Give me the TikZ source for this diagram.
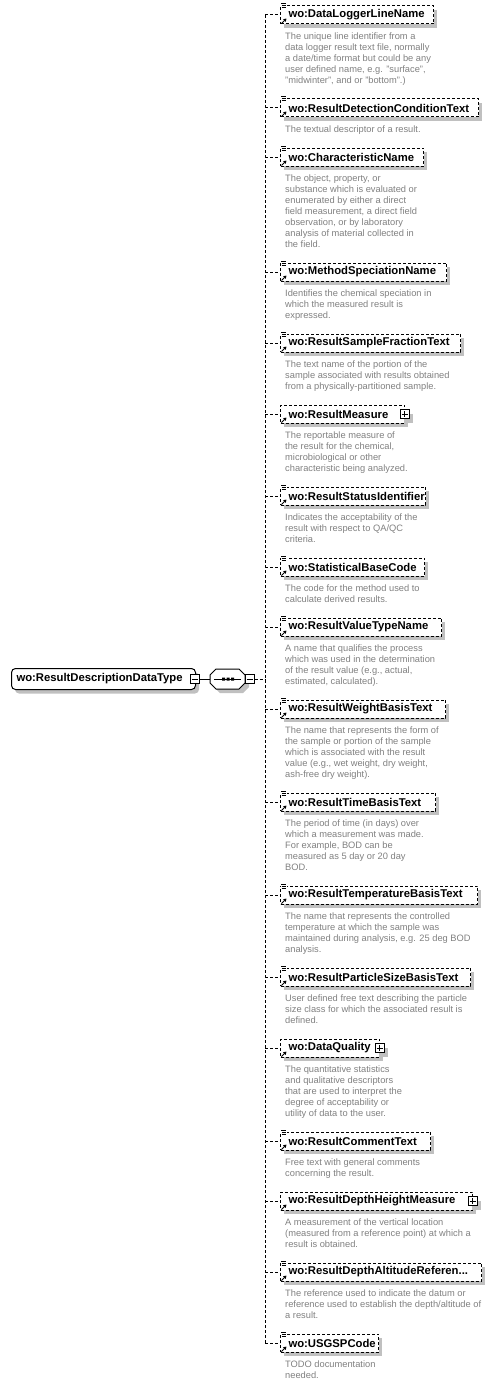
\documentclass[tikz,border=0pt]{standalone}
\usepackage{fontspec}
\setmainfont{Liberation Sans}
\usetikzlibrary{arrows.meta}
\definecolor{shadowc}{RGB}{192,192,192}
\definecolor{descc}{RGB}{128,128,128}
\tikzset{
  conn/.style={line width=1pt, dash pattern=on 3pt off 2pt},
  elem/.style={draw, line width=1pt, dash pattern=on 3pt off 2pt, fill=white, inner xsep=8pt, inner ysep=0pt,
    minimum height=18pt, align=left, anchor=west, font=\fontsize{11.3}{13}\selectfont\bfseries},
  mainbox/.style={draw, line width=1pt, fill=white, rounded corners=4pt, inner xsep=5pt, inner ysep=0pt,
    minimum height=21pt, minimum width=184pt, text width=174pt, align=left, anchor=west,
    font=\fontsize{11.3}{13}\selectfont\bfseries},
  desc/.style={anchor=north west, inner sep=0pt, align=left, text=descc, font=\fontsize{9.3}{11}\selectfont},
  expbox/.style={draw, line width=1pt, fill=white, minimum size=9pt, inner sep=0pt},
  seqshape/.style={minimum width=35pt, minimum height=20pt, inner sep=0pt},
  icon/.style={line width=1pt},
  shad/.style={fill=shadowc}
}
\newcommand\xchild[5]{%
  \pgfmathsetmacro\cy{#2}%
  \pgfmathsetmacro\bw{#3-280}%
  \pgfmathsetmacro\tw{#3-296}%
  \fill[shad] (284,\cy-5) rectangle (#3+4,\cy+13);
  \node[elem, minimum width=\bw pt, text width=\tw pt] (#1) at (280,\cy) {#4};
  \coordinate (s#1) at (265,\cy);
  \draw[conn] (s#1) -- (#1.west);
  \node[desc] (d#1) at (285,\cy+17.5) {#5};
  \draw[icon, -{Triangle[length=3pt,width=3.5pt]}] (281.5,\cy+8.5) -- (286.5,\cy+3.5);
}
\newcommand\simpicon[1]{%
  \fill[white] (280.5,#1-12) rectangle (286.5,#1-6);
  \draw[icon] (281,#1-11) -- (286,#1-11) (281.5,#1-9) -- (286,#1-9) (281.5,#1-7) -- (286,#1-7);
}
\newcommand\plusb[3]{%
  \fill[shad] (#2-0.5,#3-0.5) rectangle (#2+8.5,#3+8.5);
  \node[expbox] (#1) at (#2,#3) {};
  \draw[line width=1pt] ([xshift=2pt]#1.west) -- ([xshift=-2pt]#1.east)
    ([yshift=-2pt]#1.north) -- ([yshift=2pt]#1.south);
}
\begin{document}
\begin{tikzpicture}[x=1pt,y=-1pt]
\useasboundingbox (0,0) rectangle (495,1386);
% root
\fill[shad, rounded corners=4pt] (15,672.5) rectangle (199,693.5);
\node[mainbox] (main) at (11,679) {wo:ResultDescriptionDataType};
\node[expbox] (mainm) at (194.5,679) {};
\draw[line width=1pt] ([xshift=2pt]mainm.west) -- ([xshift=-2pt]mainm.east);
% sequence
\fill[shad] (220,673) -- (243,673) -- (249,679) -- (249,687) -- (243,693) -- (220,693) -- (214,687) -- (214,679) -- cycle;
\node[seqshape] (seq) at (227.5,679) {};
\filldraw[fill=white, line width=1pt] (216,669) -- (239,669) -- (245,675) -- (245,683) -- (239,689) -- (216,689) -- (210,683) -- (210,675) -- cycle;
\draw[line width=1pt] (214,679) -- (241,679);
\fill (222,677.5) rectangle (225,680.5) (226.5,677.5) rectangle (229.5,680.5) (231,677.5) rectangle (234,680.5);
\draw[line width=1pt] (mainm.east) -- (seq.west);
\node[expbox] (seqm) at (249.5,679) {};
\draw[line width=1pt] ([xshift=2pt]seqm.west) -- ([xshift=-2pt]seqm.east);
\coordinate (smid) at (265,679);
\draw[conn] (seqm.east) -- (smid);
% children
\xchild{n1}{15}{433}{wo:DataLoggerLineName}{The unique line identifier from a\\ data logger result text file, normally\\ a date/time format but could be any\\ user defined name, e.g. "surface",\\ "midwinter", and or "bottom".)}
\simpicon{15}
\xchild{n2}{108}{478}{wo:ResultDetectionConditionText}{The textual descriptor of a result.}
\simpicon{108}
\xchild{n3}{157}{423}{wo:CharacteristicName}{The object, property, or\\ substance which is evaluated or\\ enumerated by either a direct\\ field measurement, a direct field\\ observation, or by laboratory\\ analysis of material collected in\\ the field.}
\simpicon{157}
\xchild{n4}{272}{446}{wo:MethodSpeciationName}{Identifies the chemical speciation in\\ which the measured result is\\ expressed.}
\simpicon{272}
\xchild{n5}{343}{460}{wo:ResultSampleFractionText}{The text name of the portion of the\\ sample associated with results obtained\\ from a physically-partitioned sample.}
\simpicon{343}
\xchild{n6}{414}{404}{wo:ResultMeasure}{The reportable measure of\\ the result for the chemical,\\ microbiological or other\\ characteristic being analyzed.}
\plusb{p6}{404.5}{414}
\xchild{n7}{496}{425}{wo:ResultStatusIdentifier}{Indicates the acceptability of the\\ result with respect to QA/QC\\ criteria.}
\simpicon{496}
\xchild{n8}{567}{424}{wo:StatisticalBaseCode}{The code for the method used to\\ calculate derived results.}
\simpicon{567}
\xchild{n9}{627}{441}{wo:ResultValueTypeName}{A name that qualifies the process\\ which was used in the determination\\ of the result value (e.g., actual,\\ estimated, calculated).}
\simpicon{627}
\xchild{n10}{709}{445}{wo:ResultWeightBasisText}{The name that represents the form of\\ the sample or portion of the sample\\ which is associated with the result\\ value (e.g., wet weight, dry weight,\\ ash-free dry weight).}
\simpicon{709}
\xchild{n11}{802}{435}{wo:ResultTimeBasisText}{The period of time (in days) over\\ which a measurement was made.\\ For example, BOD can be\\ measured as 5 day or 20 day\\ BOD.}
\simpicon{802}
\xchild{n12}{895}{477}{wo:ResultTemperatureBasisText}{The name that represents the controlled\\ temperature at which the sample was\\ maintained during analysis, e.g. 25 deg BOD\\ analysis.}
\simpicon{895}
\xchild{n13}{977}{470}{wo:ResultParticleSizeBasisText}{User defined free text describing the particle\\ size class for which the associated result is\\ defined.}
\simpicon{977}
\xchild{n14}{1048}{379}{wo:DataQuality}{The quantitative statistics\\ and qualitative descriptors\\ that are used to interpret the\\ degree of acceptability or\\ utility of data to the user.}
\plusb{p14}{379.5}{1048}
\xchild{n15}{1141}{430}{wo:ResultCommentText}{Free text with general comments\\ concerning the result.}
\simpicon{1141}
\xchild{n16}{1201}{472}{wo:ResultDepthHeightMeasure}{A measurement of the vertical location\\ (measured from a reference point) at which a\\ result is obtained.}
\plusb{p16}{472.5}{1201}
\xchild{n17}{1272}{481}{wo:ResultDepthAltitudeReferen...}{The reference used to indicate the datum or\\ reference used to establish the depth/altitude of\\ a result.}
\simpicon{1272}
\xchild{n18}{1343}{378}{wo:USGSPCode}{TODO documentation\\ needed.}
\simpicon{1343}
% spine
\draw[conn] (sn1) -- (sn18);
\end{tikzpicture}
\end{document}
